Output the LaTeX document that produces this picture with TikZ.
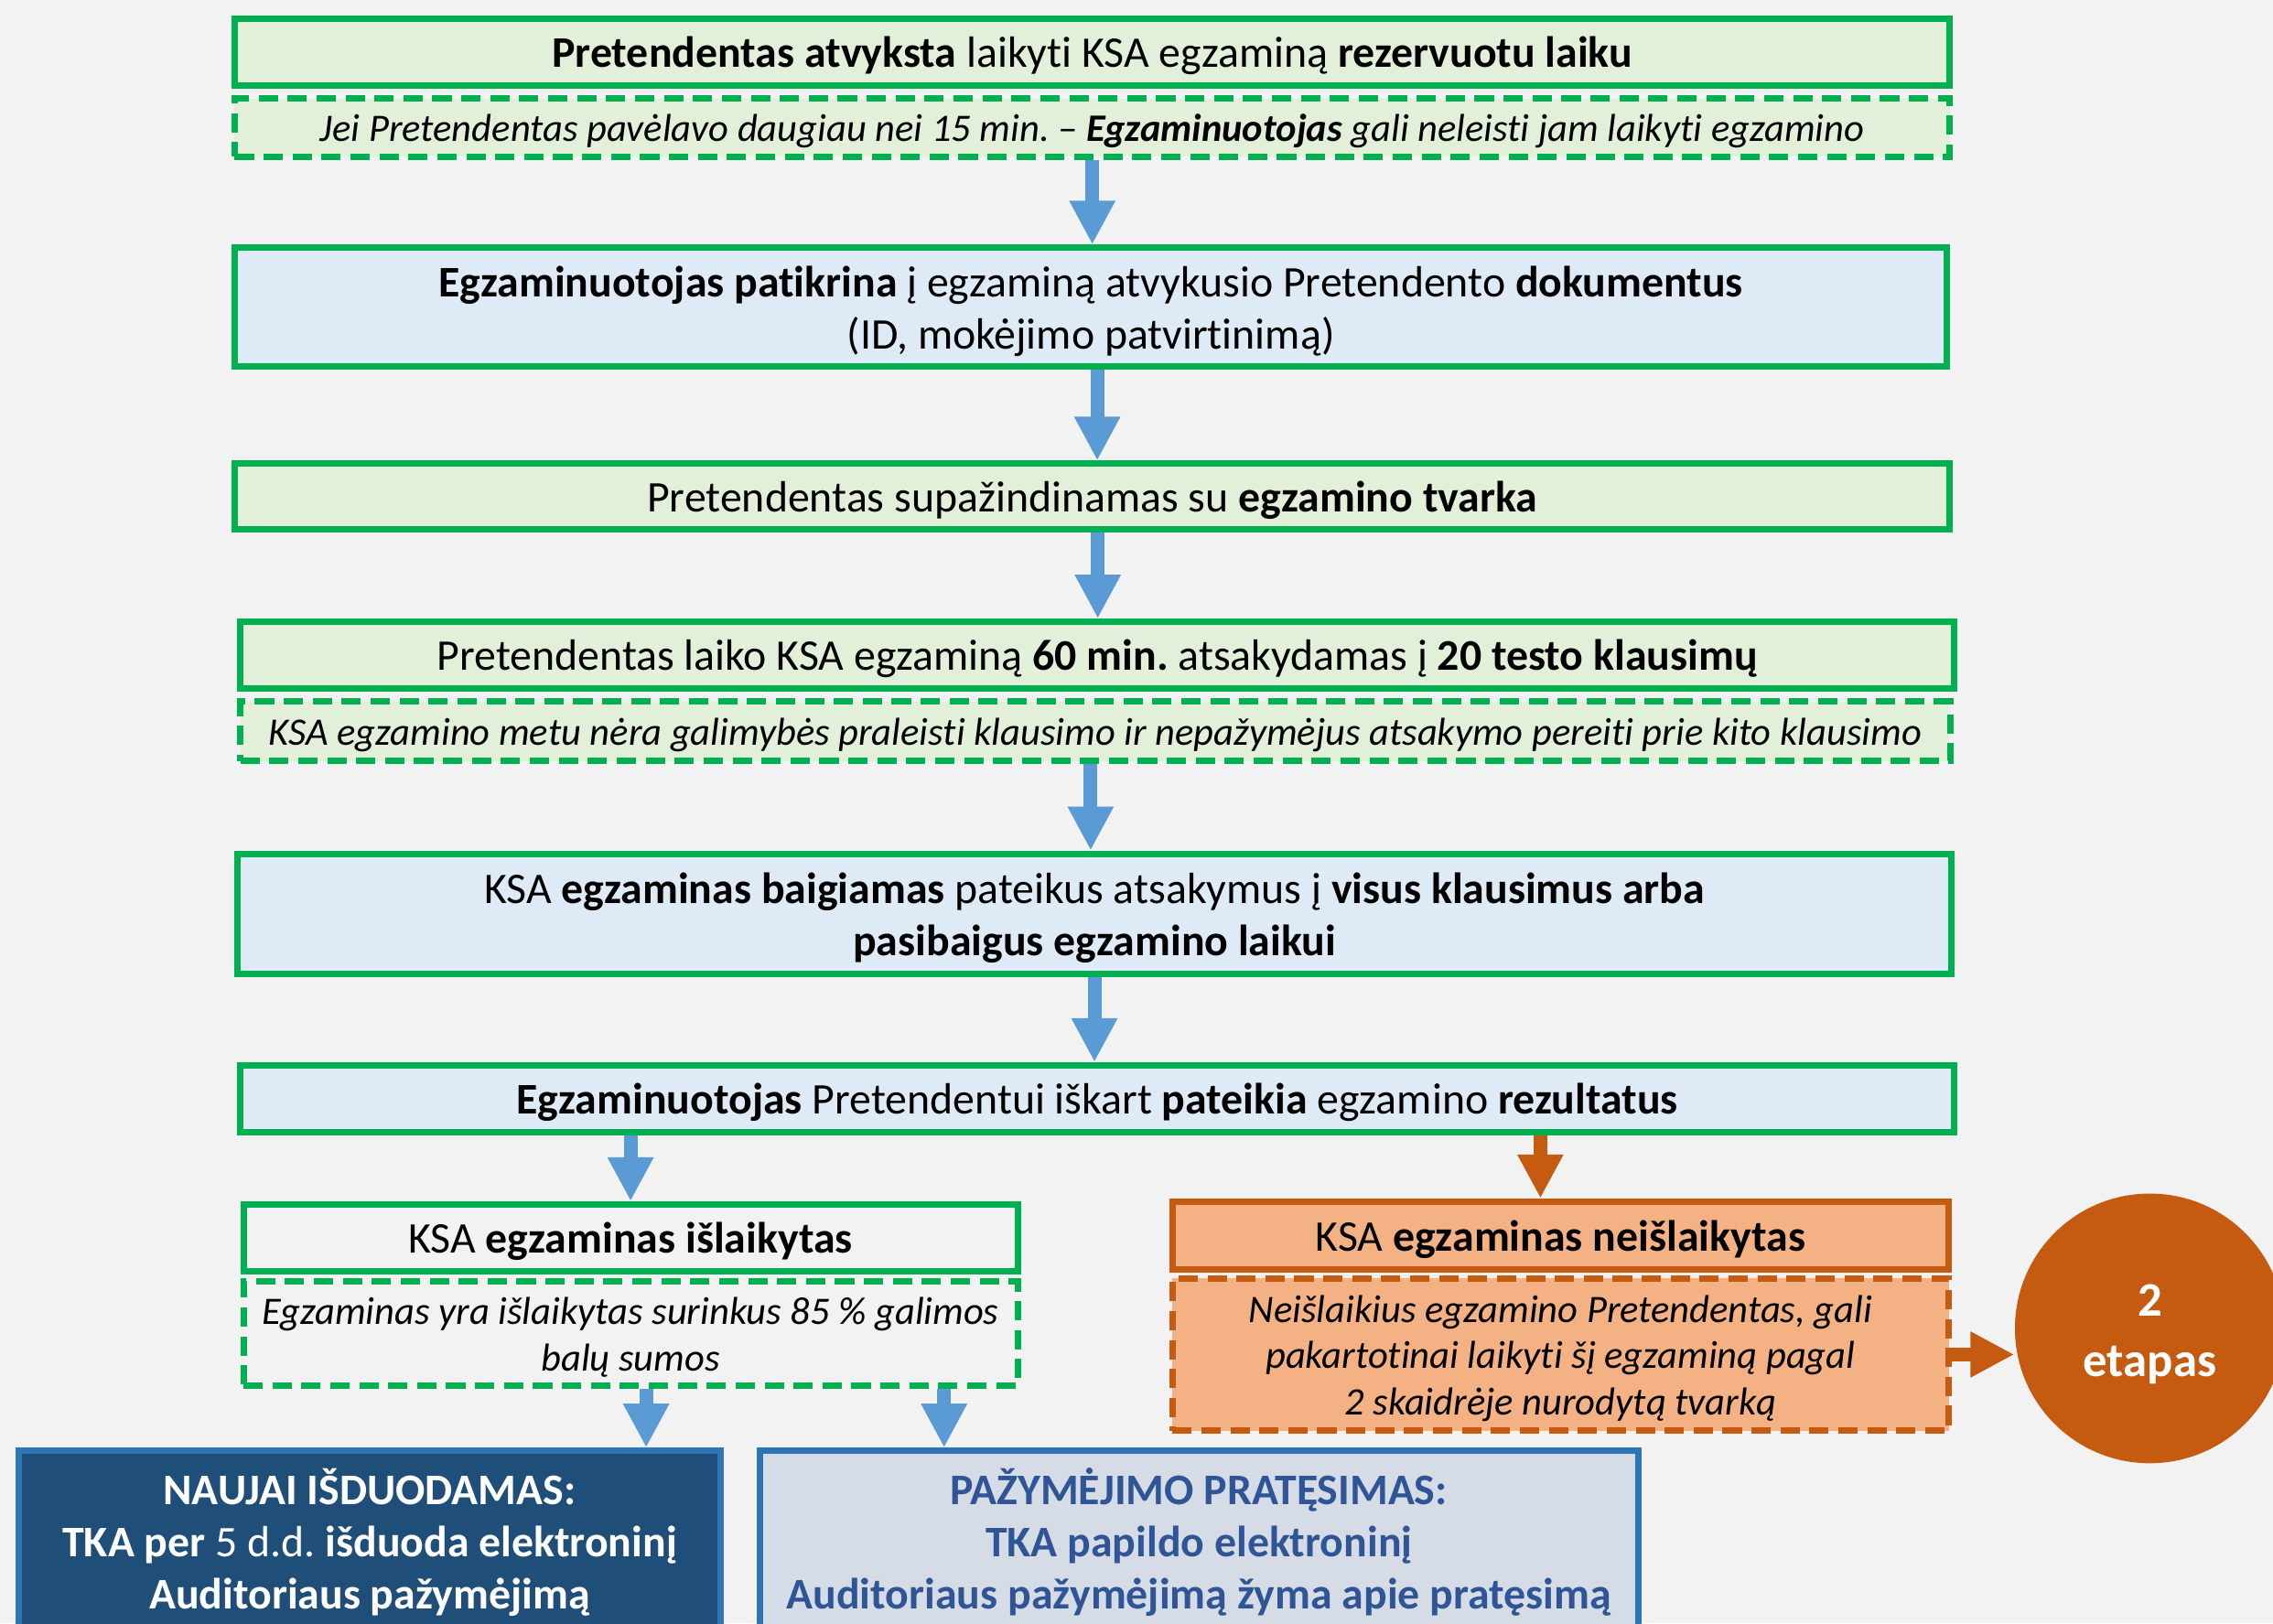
\documentclass[tikz,border=0pt]{standalone}
\usepackage{fontspec}
\setmainfont{Carlito}[Ligatures=NoCommon]
\usetikzlibrary{arrows.meta}
\definecolor{pagebg}{HTML}{F2F2F2}
\definecolor{kgreen}{HTML}{00B050}
\definecolor{fillgreen}{HTML}{E2F0D9}
\definecolor{fillblue}{HTML}{DEEBF7}
\definecolor{arrowblue}{HTML}{5B9BD5}
\definecolor{korange}{HTML}{C55A11}
\definecolor{fillorange}{HTML}{F4B183}
\definecolor{darkblue}{HTML}{1F4E79}
\definecolor{midblue}{HTML}{2E75B6}
\definecolor{greyblue}{HTML}{D6DCE5}
\definecolor{textblue}{HTML}{2F5597}
\frenchspacing
\newcommand\tallstrut{\rule{0pt}{0.9em}}
\begin{document}
\begin{tikzpicture}[x=0.015842cm,y=-0.015842cm,
    box/.style={draw=kgreen,line width=2pt,inner sep=0pt,align=center,
      font=\fontsize{13.6}{16.2}\selectfont,
      execute at begin node={\rule{0pt}{0.88em}}},
    notebox/.style={box,dash pattern=on 6pt off 3pt,
      font=\fontsize{12.1}{14.4}\selectfont\itshape},
    arr/.style={draw=arrowblue,line width=0.15cm,
      -{Triangle[width=0.47cm,length=0.48cm]}},
    orangearr/.style={arr,draw=korange,fill=korange}]
        % page
        \useasboundingbox (0,0) rectangle (1568,1120);
        \clip (0,0) rectangle (1568,1120);
        \fill[pagebg] (0,0) rectangle (1568,1120);
        % main steps
        \node[box,fill=fillgreen,minimum width=18.74cm,minimum height=0.729cm] (arrive) at (753.5,36)
          {\textbf{Pretendentas atvyksta} laikyti KSA egzaminą \textbf{rezervuotu laiku}};
        \node[notebox,fill=fillgreen,minimum width=18.74cm,minimum height=0.634cm] (late) at (753.5,88)
          {Jei Pretendentas pavėlavo daugiau nei 15 min. – \textbf{Egzaminuotojas} gali neleisti jam laikyti egzamino};
        \node[box,fill=fillblue,minimum width=18.71cm,minimum height=1.299cm] (check) at (752.5,212)
          {\tallstrut\textbf{Egzaminuotojas patikrina} į egzaminą atvykusio Pretendento \textbf{dokumentus}\\(ID, mokėjimo patvirtinimą)};
        \node[box,fill=fillgreen,minimum width=18.74cm,minimum height=0.713cm] (rules) at (753.5,342.5)
          {Pretendentas supažindinamas su \textbf{egzamino tvarka}};
        \node[box,fill=fillgreen,minimum width=18.73cm,minimum height=0.729cm] (exam) at (757,452)
          {Pretendentas laiko KSA egzaminą \textbf{60 min.} atsakydamas į \textbf{20 testo klausimų}};
        \node[notebox,fill=fillgreen,minimum width=18.68cm,minimum height=0.650cm] (noskip) at (755.5,504.5)
          {KSA egzamino metu nėra galimybės praleisti klausimo ir nepažymėjus atsakymo pereiti prie kito klausimo};
        \node[box,fill=fillblue,minimum width=18.73cm,minimum height=1.315cm] (finish) at (755,630.5)
          {\tallstrut KSA \textbf{egzaminas baigiamas} pateikus atsakymus į \textbf{visus klausimus arba}\\\textbf{pasibaigus egzamino laikui}};
        \node[box,fill=fillblue,minimum width=18.73cm,minimum height=0.729cm] (result) at (757,758)
          {\textbf{Egzaminuotojas} Pretendentui iškart \textbf{pateikia} egzamino \textbf{rezultatus}};
        % passed
        \node[box,minimum width=8.46cm,minimum height=0.729cm] (passed) at (435,854)
          {KSA \textbf{egzaminas išlaikytas}};
        \node[notebox,minimum width=8.46cm,minimum height=1.141cm] (passnote) at (435,920)
          {\tallstrut Egzaminas yra išlaikytas surinkus 85 \% galimos\\balų sumos};
        % failed
        \node[box,draw=korange,fill=fillorange,minimum width=8.48cm,minimum height=0.745cm] (failed) at (1076.5,852.5)
          {KSA \textbf{egzaminas neišlaikytas}};
        \node[notebox,draw=korange,fill=fillorange,minimum width=8.48cm,minimum height=1.663cm] (failnote) at (1076.5,934.5)
          {\tallstrut Neišlaikius egzamino Pretendentas, gali\\pakartotinai laikyti šį egzaminą pagal\\2 skaidrėje nurodytą tvarką};
        \node[circle,fill=korange,text=white,minimum size=2.947cm,inner sep=0pt,align=center,
          font=\fontsize{15}{19}\selectfont\bfseries] (stage) at (1483,916.5) {\tallstrut 2\\etapas};
        % certificates
        \node[box,draw=midblue,fill=darkblue,text=white,minimum width=7.67cm,minimum height=1.996cm] (newcert) at (255,1064)
          {\textbf{NAUJAI IŠDUODAMAS:}\\\textbf{TKA per} 5 d.d. \textbf{išduoda elektroninį}\\\textbf{Auditoriaus pažymėjimą}};
        \node[box,draw=midblue,fill=greyblue,text=textblue,minimum width=9.60cm,minimum height=1.996cm,
          font=\fontsize{13.6}{16.2}\selectfont\bfseries] (extend) at (827,1064)
          {PAŽYMĖJIMO PRATĘSIMAS:\\TKA papildo elektroninį\\Auditoriaus pažymėjimą žyma apie pratęsimą};
        % arrows
        \draw[arr] (late.south) -- (late.south |- check.north);
        \draw[arr] ([xshift=0.07cm]check.south) -- ([xshift=0.07cm]check.south |- rules.north);
        \draw[arr] ([xshift=0.06cm]rules.south) -- ([xshift=0.06cm]rules.south |- exam.north);
        \draw[arr] ([xshift=-0.05cm]noskip.south) -- ([xshift=-0.05cm]noskip.south |- finish.north);
        \draw[arr] (finish.south) -- (finish.south |- result.north);
        \draw[arr] (passed.north |- result.south) -- (passed.north);
        \draw[orangearr] ([xshift=-0.22cm]failed.north |- result.south) -- ([xshift=-0.22cm]failed.north);
        \draw[orangearr] (failnote.east) -- (failnote.east -| stage.west);
        \draw[arr] ([xshift=0.17cm]passnote.south) -- ([xshift=0.17cm]passnote.south |- newcert.north);
        \draw[arr] ([xshift=-0.84cm]passnote.south east) -- ([xshift=-0.84cm]passnote.south east |- extend.north);
\end{tikzpicture}
\end{document}
